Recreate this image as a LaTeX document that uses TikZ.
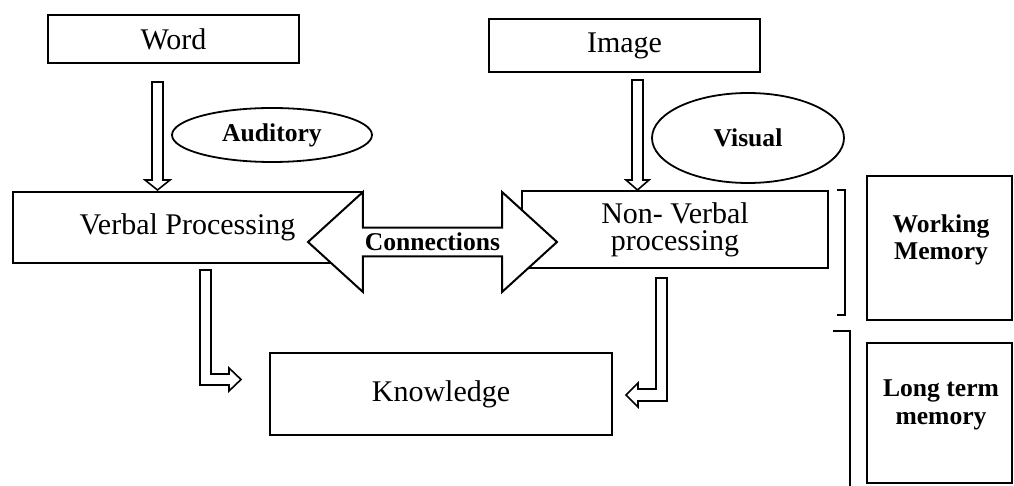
\documentclass[tikz,border=0pt]{standalone}
\usepackage{fontspec}
\setmainfont{Liberation Serif}
\usetikzlibrary{shapes.geometric,shapes.arrows}
\tikzstyle{box}=[draw, rectangle, line width=1pt, inner sep=0pt,
    align=center, font=\fontsize{15}{13.5}\selectfont]
\tikzstyle{mem}=[draw, rectangle, line width=1pt, inner sep=0pt,
    align=center, font=\fontsize{12.8}{13.5}\selectfont\bfseries]
\tikzstyle{sense}=[draw, ellipse, line width=0.9pt, inner sep=0pt,
    font=\fontsize{12.8}{14}\selectfont\bfseries]
\tikzstyle{hollow}=[draw, fill=white, line width=0.8pt, line join=miter]

\begin{document}
\begin{tikzpicture}[x=0.5pt,y=-0.5pt]
  \useasboundingbox (0,0) rectangle (1014,486);
  \node[box, minimum width=125.5pt, minimum height=24pt] at (173.5,39) (word) {Word};
  \node[box, minimum width=135.5pt, minimum height=26.5pt] at (624.5,45.5) (image) {Image};
  \node[box, minimum width=174.5pt, minimum height=35.5pt] at (187.5,227.5) (verbal) {Verbal Processing};
  \node[box, minimum width=153pt, minimum height=38.5pt] at (675,229.5) (nonverbal) {Non- Verbal\\processing};
  \node[box, minimum width=171pt, minimum height=41pt] at (441,394) (know) {Knowledge};

  \node[sense, minimum width=100pt, minimum height=27pt] at (272,135) (aud) {Auditory};
  \node[sense, minimum width=96pt, minimum height=45pt] at (748,138) (vis) {Visual};

  \node[mem, minimum width=72.5pt, minimum height=72pt] at (939.5,248) (wm) {};
  \node[font=\fontsize{12.8}{13.5}\selectfont\bfseries, align=center] at (941,240) {Working\\Memory};
  \node[mem, minimum width=72.5pt, minimum height=70pt] at (939.5,413) (ltm) {};
  \node[font=\fontsize{12.8}{14}\selectfont\bfseries, align=center] at (941,405) {Long term\\memory};

  % connections between the two channels
  \node[double arrow, draw, fill=white, line width=1pt, inner sep=0pt,
        minimum height=124.5pt, minimum width=50pt,
        double arrow head extend=12.5pt, double arrow tip angle=84.6,
        font=\fontsize{12.8}{14}\selectfont\bfseries] at (432.5,242) (conn) {Connections};

  % input arrows
  \draw[hollow] (152,82) -- (163,82) -- (163,180) -- (170,180) -- (157.5,190)
      -- (145,180) -- (152,180) -- cycle;
  \draw[hollow] (632,80) -- (643,80) -- (643,180) -- (649,180) -- (637.5,190)
      -- (626,180) -- (632,180) -- cycle;

  % into knowledge
  \draw[hollow] (200,270) -- (211,270) -- (211,374) -- (229,374) -- (229,368)
      -- (241,379.5) -- (229,391) -- (229,385) -- (200,385) -- cycle;
  \draw[hollow] (656,278) -- (667,278) -- (667,401) -- (638,401) -- (638,407)
      -- (626,395) -- (638,383) -- (638,389) -- (656,389) -- cycle;

  % brackets
  \draw[line width=1pt] (837,190) -- (845,190) -- (845,315) -- (837,315);
  \draw[line width=1pt] (833,331) -- (850,331) -- (850,487);
\end{tikzpicture}
\end{document}
